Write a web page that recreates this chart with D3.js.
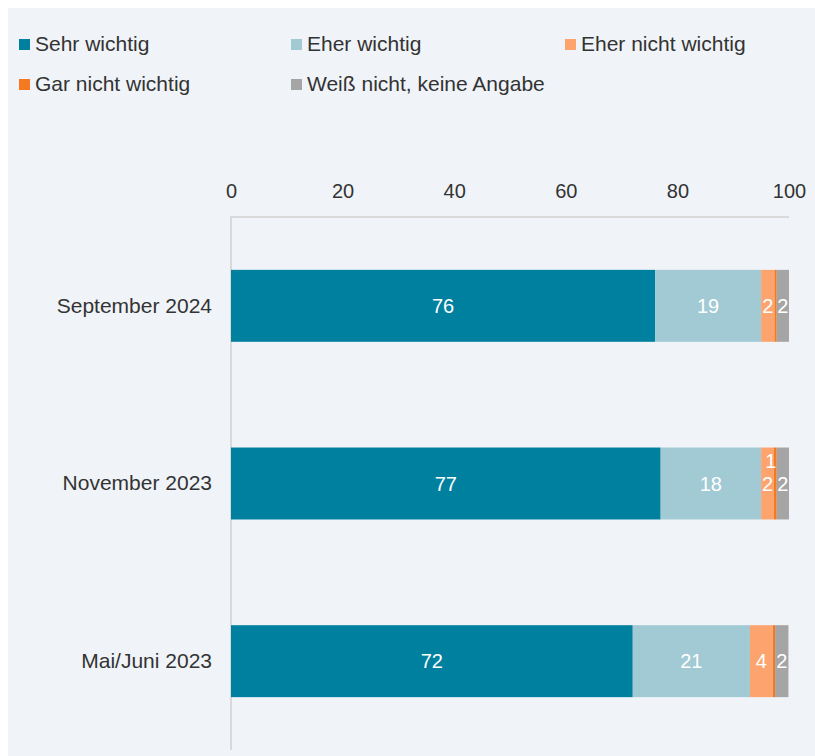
<!DOCTYPE html>
<html><head><meta charset="utf-8">
<script src="https://cdn.jsdelivr.net/npm/d3@7"></script>
<style>body{margin:0;background:#fff;font-family:"Liberation Sans",Arial,sans-serif;}</style>
</head><body>
<svg id="c" width="815" height="756"></svg>
<script>
const categories = ["September 2024", "November 2023", "Mai/Juni 2023"];
const seriesNames = ["Sehr wichtig", "Eher wichtig", "Eher nicht wichtig", "Gar nicht wichtig", "Weiß nicht, keine Angabe"];
const sehrWichtig = [76.0, 77.0, 72.0];
const eherWichtig = [19.0, 18.0, 21.0];
const eherNichtWichtig = [2.4, 2.3, 4.1];
const garNichtWichtig = [0.4, 0.5, 0.4];
const weissNicht = [2.2, 2.2, 2.4];
const colors = ["#00809f", "#a1cad4", "#fda46e", "#f47920", "#a5a5a5"];
const ticks = [0, 20, 40, 60, 80, 100];

const seriesData = [sehrWichtig, eherWichtig, eherNichtWichtig, garNichtWichtig, weissNicht];
const rows = categories.map((c, i) => {
  const r = {cat: c};
  seriesNames.forEach((s, j) => r[s] = seriesData[j][i]);
  return r;
});
const stack = d3.stack().keys(seriesNames)(rows);
const FONT = "Liberation Sans, Arial, sans-serif";

const svg = d3.select("#c");
svg.append("rect").attr("x", 8).attr("y", 8).attr("width", 807).attr("height", 748).attr("fill", "#f0f4f8");

const x = d3.scaleLinear().domain([0, 100]).range([231, 789]);
const y = d3.scaleBand().domain(categories).range([217, 750]).paddingInner(0.595).paddingOuter(0.2975);

// axis lines
svg.append("line").attr("x1", 231).attr("x2", 789).attr("y1", 217).attr("y2", 217).attr("stroke", "#d9d9d9").attr("stroke-width", 2);
svg.append("line").attr("x1", 231).attr("x2", 231).attr("y1", 216).attr("y2", 750).attr("stroke", "#d9d9d9").attr("stroke-width", 2);

const xAxis = d3.axisTop(x).tickValues(ticks).tickSize(0).tickPadding(0);
const gx = svg.append("g").attr("transform", "translate(0,198)").call(xAxis);
gx.select(".domain").remove();
gx.selectAll("text").attr("dy", 0).attr("font-family", FONT).attr("font-size", 20).attr("fill", "#333");

const yAxis = d3.axisLeft(y).tickSize(0).tickPadding(19);
const gy = svg.append("g").attr("transform", "translate(231,0)").call(yAxis);
gy.select(".domain").remove();
gy.selectAll("text").attr("font-family", FONT).attr("font-size", 21).attr("fill", "#333");

stack.forEach((layer, j) => {
  const g = svg.append("g");
  g.selectAll("rect").data(layer).join("rect")
    .attr("x", d => x(d[0])).attr("width", d => x(d[1]) - x(d[0]))
    .attr("y", d => y(d.data.cat)).attr("height", y.bandwidth())
    .attr("fill", colors[j]);
  g.selectAll("text").data(layer.filter(d => Math.round(d[1] - d[0]) >= 1)).join("text")
    .attr("x", d => {
      const w = x(d[1]) - x(d[0]);
      return w < 6 ? x(d[0]) - 3 : (x(d[0]) + x(d[1])) / 2;
    })
    .attr("y", d => {
      const w = x(d[1]) - x(d[0]);
      return y(d.data.cat) + y.bandwidth() / 2 + (w < 6 ? -23 : 0);
    })
    .attr("dy", "0.36em")
    .attr("text-anchor", "middle")
    .attr("font-family", FONT)
    .attr("font-size", 20).attr("fill", "#fff")
    .text(d => Math.round(d[1] - d[0]));
});

// legend
const legendPos = [[19, 51], [291, 51], [565, 51], [19, 91], [291, 91]];
seriesNames.forEach((s, j) => {
  const [lx, ly] = legendPos[j];
  svg.append("rect").attr("x", lx).attr("y", ly - 12).attr("width", 11).attr("height", 11).attr("fill", colors[j]);
  svg.append("text").attr("x", lx + 16).attr("y", ly).attr("font-family", FONT)
    .attr("font-size", 21).attr("fill", "#333").text(s);
});
</script>
</body></html>
